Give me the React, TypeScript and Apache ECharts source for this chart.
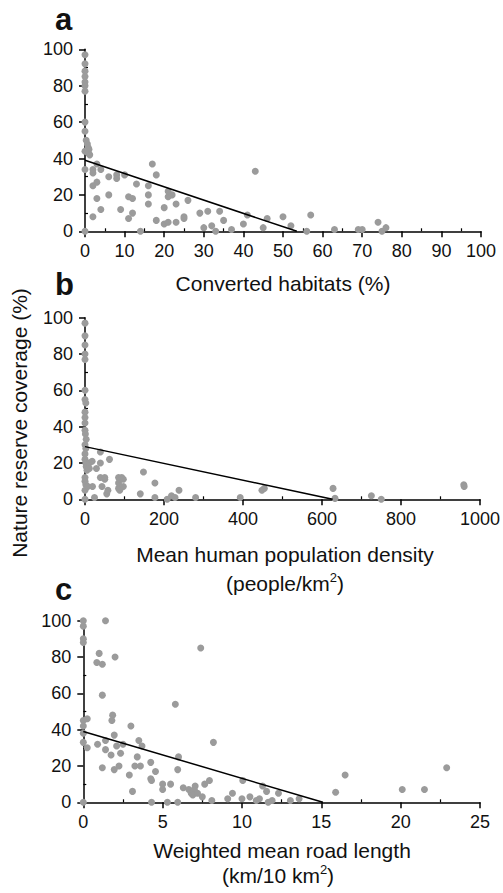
import React, { useEffect, useRef } from "react";
import * as echarts from "echarts";

// ---------- data ----------
const panelLetters = ["a", "b", "c"];

const xMaxes = [100, 1000, 25];
const xIntervals = [10, 200, 5];
const xMinorTicks = [
  [5, 15, 25, 35, 45, 55, 65, 75, 85, 95],
  [100, 300, 500, 700, 900],
  [2.5, 7.5, 12.5, 17.5, 22.5],
];
const yMax = 100;
const yInterval = 20;
const yMinorTicks = [10, 30, 50, 70, 90];

// Panel a: converted habitats (%) vs nature reserve coverage (%)
const pointsA: [number, number][] = [
  [0, 97], [0, 92], [0, 88], [0, 85], [0, 82], [0, 80], [0, 77], [0, 60], [0, 55],
  [0.3, 50], [0.6, 48], [0.8, 46], [1, 45], [0.8, 43], [1.2, 42], [0, 44], [0, 34], [0, 0],
  [2, 34], [2, 32], [3, 37], [4, 34], [3, 27], [2, 25], [3, 18], [2, 8], [4, 12],
  [6, 30], [6, 20], [8, 31], [8, 29], [10, 31], [9, 12], [11, 19], [12, 18], [11, 7],
  [12, 10], [13, 26], [14, 0], [16, 25], [16, 20], [16, 15], [17, 37], [18, 31], [18, 6],
  [20, 13], [20, 4], [21, 5], [21, 19], [21, 22], [22, 20], [23, 15], [23, 5], [25, 8],
  [25, 7], [26, 17], [29, 10], [30, 2], [31, 11], [32, 3], [33, 0], [34, 11], [35, 6],
  [37, 1], [40, 4], [41, 9], [43, 33], [45, 2], [46, 7], [50, 8], [52, 3], [56, 0],
  [57, 9], [63, 1], [69, 1], [70, 1], [74, 5], [75, 0], [76, 2],
];
const fitA: [number, number][] = [[0, 39], [53.5, 0]];

// Panel b: mean human population density vs coverage
const pointsB: [number, number][] = [
  [0, 97], [0, 90], [0, 85], [0, 80], [0, 77], [0, 60], [0, 55], [2, 53], [0, 48],
  [0, 45], [0, 42], [0, 38], [1, 36], [3, 33], [0, 30], [2, 28], [0, 25], [0, 22],
  [2, 20], [3, 18], [5, 16], [0, 12], [0, 10], [2, 8], [0, 5], [0, 0],
  [11, 20], [18, 21], [11, 17], [7, 7], [19, 7], [24, 1], [29, 17], [39, 26], [39, 20],
  [39, 12], [43, 7], [50, 11], [50, 12], [55, 3], [58, 5], [62, 22], [85, 12], [85, 9],
  [88, 11], [93, 12], [97, 11], [85, 6], [97, 7], [88, 5], [140, 3], [148, 15], [177, 9],
  [177, 1], [208, 0], [219, 2], [228, 1], [238, 5], [280, 1], [393, 1], [448, 5], [454, 6],
  [628, 6], [633, 0.5], [725, 2], [750, 0], [959, 8], [960, 7],
];
const fitB: [number, number][] = [[0, 29], [627, 0]];

// Panel c: weighted mean road length vs coverage
const pointsC: [number, number][] = [
  [0, 100], [0, 97], [0, 90], [0, 88], [0, 45], [0, 42], [0, 38], [0, 33], [0, 0],
  [0.25, 46], [0.25, 30], [1, 82], [0.85, 77], [1.2, 76], [1.2, 59], [1.4, 100], [2, 80],
  [1.85, 48], [1.8, 45], [1.95, 37], [0.9, 32], [1.4, 34], [1.4, 29], [1.2, 19], [1.75, 26],
  [1.95, 18], [2.1, 31], [2.25, 20], [2.35, 27], [2.5, 32], [3, 42], [2.9, 15], [3.1, 6],
  [3.25, 20], [3.5, 34], [3.4, 25], [3.6, 20], [3.7, 31], [4.25, 22], [4.25, 13], [4.3, 12],
  [4.3, 0], [4.55, 17], [5, 10], [5, 7], [5.3, 0], [5.5, 10], [5.8, 54], [6, 25],
  [5.95, 18], [5.95, 0], [6.3, 8], [6.65, 7], [6.8, 5], [7, 7], [7.05, 9], [6.9, 4],
  [7.2, 5], [7.4, 85], [7.5, 3], [7.65, 10], [7.95, 12], [8.1, 1], [8.2, 33], [9.1, 2],
  [9.4, 5], [10, 2], [10.05, 12], [10.5, 3], [10.9, 1], [11.1, 2], [11.3, 9], [11.55, 6],
  [11.65, 0], [11.9, 1], [12.3, 5], [13.05, 1], [13.6, 2], [15.9, 5.5], [16.5, 15],
  [20.1, 7], [21.5, 7], [22.9, 19],
];
const fitC: [number, number][] = [[0, 39], [15.1, 0]];

const yTitle = "Nature reserve coverage (%)";
const xTitleA = "Converted habitats (%)";
const xTitleB1 = "Mean human population density";
const xTitleB2 = "(people/km{sup|2})";
const xTitleC1 = "Weighted mean road length";
const xTitleC2 = "(km/10 km{sup|2})";

// ---------- layout ----------
const FONT = "'Liberation Sans', Arial, Helvetica, sans-serif";
const grids = [
  { left: 85, top: 49.3, width: 396, height: 182 },
  { left: 85, top: 317.7, width: 396.7, height: 181.6 },
  { left: 83.3, top: 620.7, width: 396.7, height: 181.6 },
];
const letterPos = [
  { x: 55, y: 19 },
  { x: 55, y: 284 },
  { x: 55, y: 589 },
];

export default function App() {
  const ref = useRef<HTMLDivElement>(null);

  useEffect(() => {
    if (!ref.current) return;
    const chart = echarts.init(ref.current, undefined, { renderer: "svg" });

    const axisColor = "#000";
    const plain = (v: number) => String(v);
    const xAxes: any[] = [];
    const yAxes: any[] = [];
    grids.forEach((_, i) => {
      xAxes.push({
        gridIndex: i,
        type: "value",
        position: "bottom",
        min: 0,
        max: xMaxes[i],
        interval: xIntervals[i],
        axisLine: { show: true, onZero: false, lineStyle: { color: axisColor, width: 1.5 } },
        axisTick: { show: true, length: 6, lineStyle: { color: axisColor, width: 1.5 } },
        axisLabel: { color: "#111", fontSize: 18, fontFamily: FONT, margin: 11, formatter: plain },
        splitLine: { show: false },
      });
      xAxes.push({
        gridIndex: i,
        type: "value",
        position: "bottom",
        min: 0,
        max: xMaxes[i],
        interval: xIntervals[i],
        axisLine: { show: false },
        axisTick: {
          show: true,
          inside: true,
          length: 3,
          customValues: xMinorTicks[i],
          lineStyle: { color: axisColor, width: 1.2 },
        },
        axisLabel: { show: false },
        splitLine: { show: false },
      });
      yAxes.push({
        gridIndex: i,
        type: "value",
        position: "left",
        min: 0,
        max: yMax,
        interval: yInterval,
        axisLine: { show: true, onZero: false, lineStyle: { color: axisColor, width: 1.5 } },
        axisTick: { show: true, length: 6, lineStyle: { color: axisColor, width: 1.5 } },
        axisLabel: { color: "#111", fontSize: 18, fontFamily: FONT, margin: 12, formatter: plain },
        splitLine: { show: false },
      });
      yAxes.push({
        gridIndex: i,
        type: "value",
        position: "left",
        min: 0,
        max: yMax,
        interval: yInterval,
        axisLine: { show: false },
        axisTick: {
          show: true,
          inside: true,
          length: 3,
          customValues: yMinorTicks,
          lineStyle: { color: axisColor, width: 1.2 },
        },
        axisLabel: { show: false },
        splitLine: { show: false },
      });
    });

    const pointSets = [pointsA, pointsB, pointsC];
    const fits = [fitA, fitB, fitC];
    const series: any[] = [];
    pointSets.forEach((pts, i) => {
      series.push({
        type: "scatter",
        xAxisIndex: i * 2,
        yAxisIndex: i * 2,
        data: pts,
        symbol: "circle",
        symbolSize: 7,
        clip: false,
        itemStyle: { color: "#9b9b9b", opacity: 1 },
        z: 3,
      });
      series.push({
        type: "line",
        xAxisIndex: i * 2,
        yAxisIndex: i * 2,
        data: fits[i],
        showSymbol: false,
        symbol: "none",
        lineStyle: { color: "#000", width: 1.5 },
        z: 4,
      });
    });

    const titleStyle = { fontSize: 21, fontFamily: FONT, fill: "#111" };
    const richSup = { sup: { fontSize: 13, fontFamily: FONT, fill: "#111", padding: [0, 0, 11, 0] } };
    const graphic: any[] = [];
    panelLetters.forEach((l, i) => {
      graphic.push({
        type: "text",
        x: letterPos[i].x,
        y: letterPos[i].y,
        style: {
          text: l,
          fontSize: 31,
          fontWeight: "bold",
          fontFamily: FONT,
          fill: "#111",
          verticalAlign: "middle",
        },
      });
    });
    graphic.push({
      type: "text",
      x: 19,
      y: 423,
      rotation: Math.PI / 2,
      style: { ...titleStyle, text: yTitle, align: "center", verticalAlign: "middle" },
    });
    graphic.push({
      type: "text",
      x: 283,
      y: 283,
      style: { ...titleStyle, text: xTitleA, align: "center", verticalAlign: "middle" },
    });
    graphic.push({
      type: "text",
      x: 285,
      y: 554,
      style: { ...titleStyle, text: xTitleB1, align: "center", verticalAlign: "middle" },
    });
    graphic.push({
      type: "text",
      x: 285,
      y: 583,
      style: { ...titleStyle, text: xTitleB2, rich: richSup, align: "center", verticalAlign: "middle" },
    });
    graphic.push({
      type: "text",
      x: 282,
      y: 850,
      style: { ...titleStyle, text: xTitleC1, align: "center", verticalAlign: "middle" },
    });
    graphic.push({
      type: "text",
      x: 278,
      y: 875,
      style: { ...titleStyle, text: xTitleC2, rich: richSup, align: "center", verticalAlign: "middle" },
    });

    chart.setOption({
      animation: false,
      backgroundColor: "#fff",
      grid: grids,
      xAxis: xAxes,
      yAxis: yAxes,
      series,
      graphic,
    });

    return () => chart.dispose();
  }, []);

  return (
    <div
      ref={ref}
      style={{ position: "absolute", left: 0, top: 0, width: 503, height: 893 }}
    />
  );
}
